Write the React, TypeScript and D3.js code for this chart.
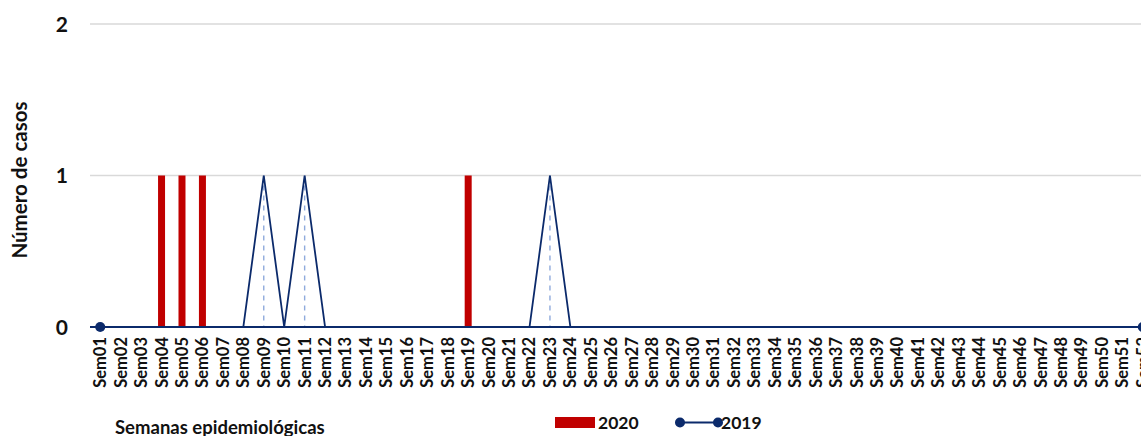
import { useMemo } from "react";
import * as d3 from "d3";

const WIDTH = 1141;
const HEIGHT = 436;
const MARGIN = { top: 24, left: 90, bottomAxis: 327 };
const PLOT_RIGHT = 1153; // the chart runs past the right edge in the reference

const weeks = d3.range(1, 53).map((n) => "Sem" + String(n).padStart(2, "0"));

// casos por semana
const cases2020 = [
  0, 0, 0, 1, 1, 1, 0, 0, 0, 0, 0, 0, 0, 0, 0, 0, 0, 0, 1, 0, 0, 0, 0, 0, 0, 0,
  0, 0, 0, 0, 0, 0, 0, 0, 0, 0, 0, 0, 0, 0, 0, 0, 0, 0, 0, 0, 0, 0, 0, 0, 0, 0,
];
const cases2019 = [
  0, 0, 0, 0, 0, 0, 0, 0, 1, 0, 1, 0, 0, 0, 0, 0, 0, 0, 0, 0, 0, 0, 1, 0, 0, 0,
  0, 0, 0, 0, 0, 0, 0, 0, 0, 0, 0, 0, 0, 0, 0, 0, 0, 0, 0, 0, 0, 0, 0, 0, 0, 0,
];
const yTicks = [0, 1, 2];

const FONT = "Lato, 'Open Sans', sans-serif";
const RED = "#C00000";
const NAVY = "#0B2A6B";

export default function App() {
  const xScale = useMemo(
    () => d3.scaleBand().domain(weeks).range([MARGIN.left, PLOT_RIGHT]),
    []
  );
  const yScale = useMemo(
    () => d3.scaleLinear().domain([0, 2]).range([MARGIN.bottomAxis, MARGIN.top]),
    []
  );
  const cx = (w: string) => (xScale(w) as number) + xScale.bandwidth() / 2;
  const barW = 7;

  const line = d3
    .line<number>()
    .x((_, i) => cx(weeks[i]))
    .y((d) => yScale(d));

  return (
    <svg width={WIDTH} height={HEIGHT} style={{ position: "absolute", left: 0, top: 0 }}>
      {yTicks.map((t) => (
        <g key={t}>
          <line x1={MARGIN.left} x2={PLOT_RIGHT} y1={yScale(t)} y2={yScale(t)} stroke="#D9D9D9" strokeWidth={1.5} />
          <text x={68} y={yScale(t)} dy="0.36em" textAnchor="end" fontFamily={FONT} fontWeight="bold" fontSize={21} fill="#111">
            {t}
          </text>
        </g>
      ))}

      {cases2019.map((v, i) =>
        v > 0 ? (
          <line key={"d" + i} x1={cx(weeks[i])} x2={cx(weeks[i])} y1={yScale(v)} y2={yScale(0)} stroke="#8FAADC" strokeWidth={1.4} strokeDasharray="5,5" />
        ) : null
      )}

      {cases2020.map((v, i) => (
        <rect key={"b" + i} x={cx(weeks[i]) - barW / 2} width={barW} y={yScale(v)} height={yScale(0) - yScale(v)} fill={RED} />
      ))}

      <path d={line(cases2019) ?? ""} fill="none" stroke={NAVY} strokeWidth={1.8} />
      <line x1={MARGIN.left} x2={PLOT_RIGHT} y1={yScale(0)} y2={yScale(0)} stroke={NAVY} strokeWidth={2.2} />
      <circle cx={cx(weeks[0])} cy={yScale(cases2019[0])} r={5} fill={NAVY} />
      <circle cx={cx(weeks[51])} cy={yScale(cases2019[51])} r={5} fill={NAVY} />

      {weeks.map((w) => (
        <text
          key={w}
          transform={`translate(${cx(w)},${yScale(0) + 10}) rotate(-90)`}
          dy="0.36em"
          textAnchor="end"
          fontFamily={FONT}
          fontWeight="bold"
          fontSize={16.5}
          fill="#111"
        >
          {w}
        </text>
      ))}

      <text transform={`translate(27,${yScale(0.97)}) rotate(-90)`} textAnchor="middle" fontFamily={FONT} fontWeight="bold" fontSize={20.5} fill="#111">
        Número de casos
      </text>
      <text x={115} y={434} fontFamily={FONT} fontWeight="bold" fontSize={18.5} fill="#111">
        Semanas epidemiológicas
      </text>

      <rect x={555} y={417} width={40} height={11} fill={RED} />
      <text x={598} y={429} fontFamily={FONT} fontWeight="bold" fontSize={17.5} fill="#111">2020</text>
      <line x1={680} x2={718} y1={422.5} y2={422.5} stroke={NAVY} strokeWidth={1.8} />
      <circle cx={680} cy={422.5} r={5} fill={NAVY} />
      <circle cx={718} cy={422.5} r={5} fill={NAVY} />
      <text x={721} y={429} fontFamily={FONT} fontWeight="bold" fontSize={17.5} fill="#111">2019</text>
    </svg>
  );
}
